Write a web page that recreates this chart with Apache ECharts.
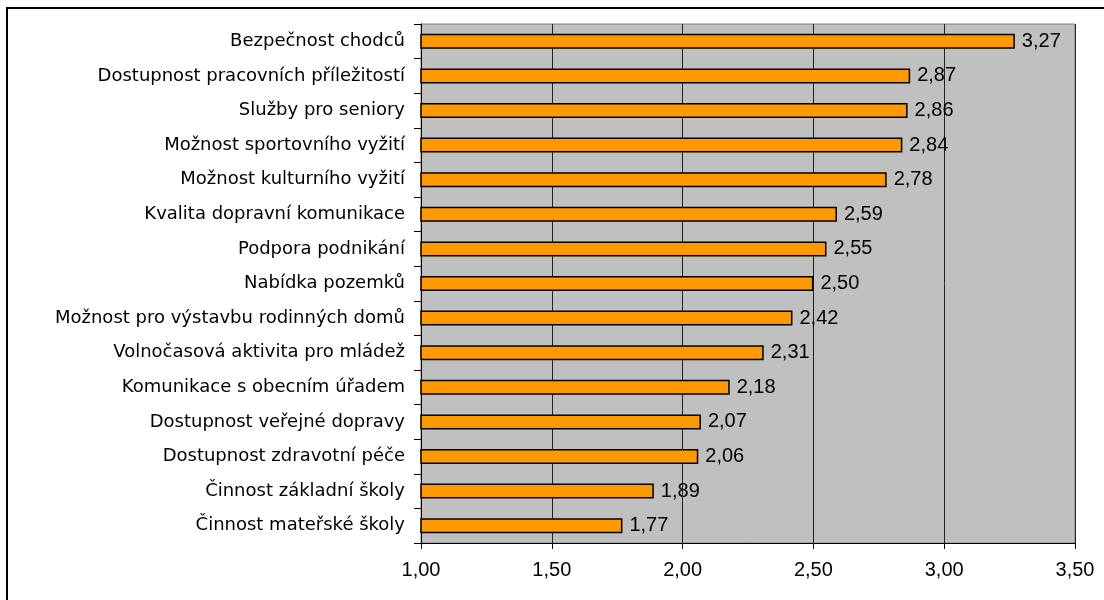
<!DOCTYPE html>
<html>
<head>
<meta charset="utf-8">
<script src="https://cdn.jsdelivr.net/npm/echarts@6/dist/echarts.min.js"></script>
<style>
  html, body { margin: 0; padding: 0; background: #fff; }
  #chart { width: 1104px; height: 600px; }
</style>
</head>
<body>
<div id="chart"></div>
<script>
// kategorie odshora dolu
const categories = [
  'Bezpečnost chodců',
  'Dostupnost pracovních příležitostí',
  'Služby pro seniory',
  'Možnost sportovního vyžití',
  'Možnost kulturního vyžití',
  'Kvalita dopravní komunikace',
  'Podpora podnikání',
  'Nabídka pozemků',
  'Možnost pro výstavbu rodinných domů',
  'Volnočasová aktivita pro mládež',
  'Komunikace s obecním úřadem',
  'Dostupnost veřejné dopravy',
  'Dostupnost zdravotní péče',
  'Činnost základní školy',
  'Činnost mateřské školy'
];
const values = [3.27, 2.87, 2.86, 2.84, 2.78, 2.59, 2.55, 2.50, 2.42, 2.31, 2.18, 2.07, 2.06, 1.89, 1.77];

const fmt = v => v.toFixed(2).replace('.', ',');

const chart = echarts.init(document.getElementById('chart'));
chart.setOption({
  animation: false,
  textStyle: { fontFamily: 'Liberation Sans, Arial, sans-serif' },
  graphic: [{
    type: 'rect',
    shape: { x: 7, y: 8, width: 1200, height: 700 },
    style: { fill: 'none', stroke: '#000', lineWidth: 2 },
    silent: true
  }],
  grid: {
    left: 421, right: 29, top: 24, bottom: 57,
    show: true,
    backgroundColor: '#c0c0c0',
    borderColor: '#808080',
    borderWidth: 1
  },
  xAxis: {
    type: 'value',
    min: 1, max: 3.5, interval: 0.5,
    axisLine: { show: true, lineStyle: { color: '#000', width: 1 } },
    axisTick: { show: true, length: 6, lineStyle: { color: '#000' } },
    axisLabel: { formatter: fmt, color: '#000', fontSize: 20, margin: 17 },
    splitLine: { show: true, lineStyle: { color: '#222', width: 1 } }
  },
  yAxis: {
    type: 'category',
    data: categories,
    inverse: true,
    axisLine: { show: true, lineStyle: { color: '#000', width: 1 } },
    axisTick: { show: true, length: 7, lineStyle: { color: '#000' } },
    axisLabel: { color: '#000', fontSize: 18, margin: 16, fontFamily: 'DejaVu Sans' }
  },
  series: [{
    type: 'bar',
    data: values,
    barWidth: 15,
    itemStyle: { color: '#ff9900', borderColor: '#000', borderWidth: 1.5 },
    label: {
      show: true,
      position: 'right',
      distance: 7,
      color: '#000',
      fontSize: 20,
      formatter: p => fmt(p.value)
    }
  }]
});
</script>
</body>
</html>
